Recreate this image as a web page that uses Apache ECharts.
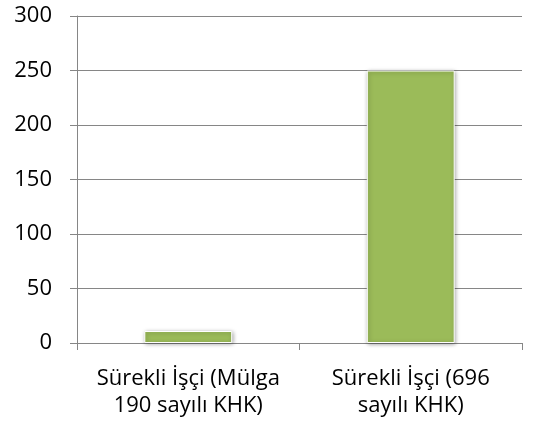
<!DOCTYPE html>
<html><head><meta charset="utf-8">
<script src="https://cdn.jsdelivr.net/npm/echarts@6/dist/echarts.min.js"></script>
<style>html,body{margin:0;padding:0;background:#fff}#c{width:535px;height:428px}</style>
</head><body><div id="c"></div>
<script>
var categories = ["Sürekli İşçi (Mülga\n190 sayılı KHK)", "Sürekli İşçi (696\nsayılı KHK)"];
var values = [11, 250];
var yMin = 0, yMax = 300, yStep = 50;

var chart = echarts.init(document.getElementById('c'), null, {renderer: 'canvas'});
chart.setOption({
  animation: false,
  grid: {left: 77, right: 13, top: 16, bottom: 85},
  xAxis: {
    type: 'category', data: categories,
    axisLine: {lineStyle: {color: '#868686', width: 1}},
    axisTick: {show: true, length: 7, lineStyle: {color: '#868686'}},
    axisLabel: {color: '#000', fontSize: 22, fontFamily: 'Open Sans', margin: 22, lineHeight: 27,
      interval: 0, hideOverlap: false}
  },
  yAxis: {
    type: 'value', min: yMin, max: yMax, interval: yStep,
    axisLine: {show: true, lineStyle: {color: '#868686', width: 1}},
    axisTick: {show: true, length: 7, lineStyle: {color: '#868686'}},
    splitLine: {lineStyle: {color: '#868686', width: 1}},
    axisLabel: {color: '#000', fontSize: 22, fontFamily: 'Open Sans', margin: 25}
  },
  series: [{
    type: 'bar', data: values, barWidth: '39.5%',
    itemStyle: {color: '#9BBB59', borderColor: '#ffffff', borderWidth: 1,
      shadowColor: 'rgba(0,0,0,0.35)', shadowBlur: 4, shadowOffsetX: 1, shadowOffsetY: 1}
  }]
});
</script></body></html>
